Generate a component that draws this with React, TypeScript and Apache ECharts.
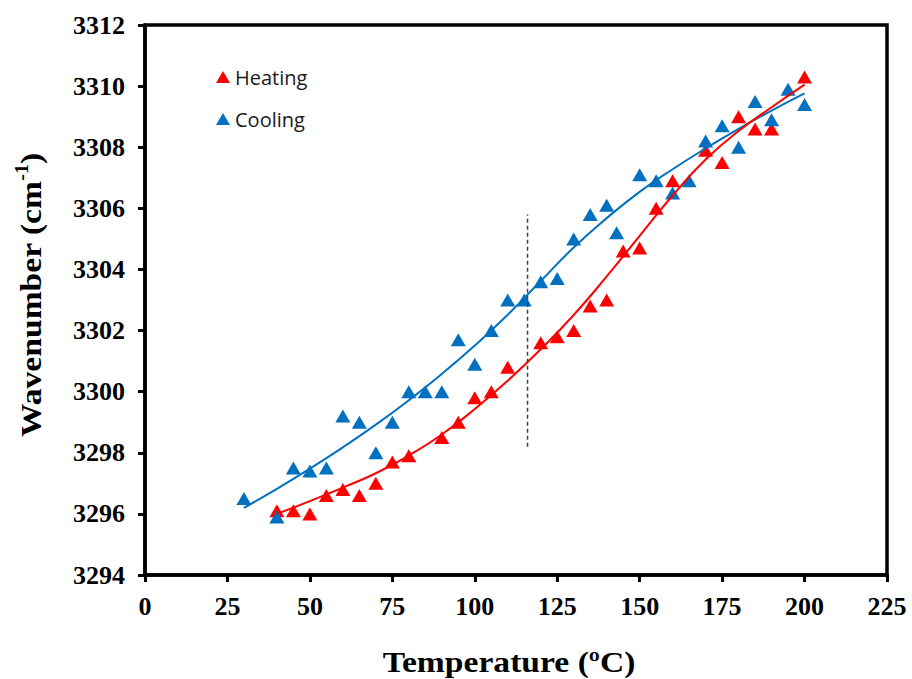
import React, { useEffect, useRef } from "react";
import * as echarts from "echarts";

// Measured points
const heatX = [40, 45, 50, 55, 60, 65, 70, 75, 80, 90, 95, 100, 105, 110, 120, 125, 130, 135, 140, 145, 150, 155, 160, 170, 175, 180, 185, 190, 200];
const heatY = [3296.1, 3296.1, 3296.0, 3296.6, 3296.8, 3296.6, 3297.0, 3297.7, 3297.9, 3298.5, 3299.0, 3299.8, 3300.0, 3300.8, 3301.6, 3301.8, 3302.0, 3302.8, 3303.0, 3304.6, 3304.7, 3306.0, 3306.9, 3307.9, 3307.5, 3309.0, 3308.6, 3308.6, 3310.3];

const coolX = [30, 40, 45, 50, 55, 60, 65, 70, 75, 80, 85, 90, 95, 100, 105, 110, 115, 120, 125, 130, 135, 140, 143, 150, 155, 160, 165, 170, 175, 180, 185, 190, 195, 200];
const coolY = [3296.5, 3295.9, 3297.5, 3297.4, 3297.5, 3299.2, 3299.0, 3298.0, 3299.0, 3300.0, 3300.0, 3300.0, 3301.7, 3300.9, 3302.0, 3303.0, 3303.0, 3303.6, 3303.7, 3305.0, 3305.8, 3306.1, 3305.2, 3307.1, 3306.9, 3306.5, 3306.9, 3308.2, 3308.7, 3308.0, 3309.5, 3308.9, 3309.9, 3309.4];

// Trend curves
const heatFitX = [40, 50, 60, 70, 80, 90, 100, 110, 120, 130, 140, 150, 160, 170, 180, 190, 200];
const heatFitY = [3296.0, 3296.42, 3296.86, 3297.33, 3297.91, 3298.6, 3299.43, 3300.36, 3301.39, 3302.51, 3303.77, 3305.1, 3306.42, 3307.6, 3308.53, 3309.31, 3310.05];

const coolFitX = [30, 40, 50, 60, 70, 80, 90, 100, 110, 120, 130, 140, 150, 160, 170, 180, 190, 200];
const coolFitY = [3296.2, 3296.82, 3297.48, 3298.18, 3298.92, 3299.72, 3300.58, 3301.51, 3302.52, 3303.62, 3304.72, 3305.68, 3306.54, 3307.28, 3307.96, 3308.6, 3309.2, 3309.76];

// Dashed divider
const dividerX = [116, 116];
const dividerY = [3298.2, 3305.8];

const xTicks = { min: 0, max: 225, interval: 25 };
const yTicks = { min: 3294, max: 3312, interval: 2 };

const zip = (xs: number[], ys: number[]) => xs.map((x, i) => [x, ys[i]]);

const RED = "#FF0000";
const BLUE = "#0070C0";
const SERIF = "'Liberation Serif', 'Times New Roman', serif";

export default function App() {
  const ref = useRef<HTMLDivElement>(null);

  useEffect(() => {
    if (!ref.current) return;
    const chart = echarts.init(ref.current, undefined, { renderer: "svg" });

    const axisCommon = {
      type: "value" as const,
      axisLine: { show: true, onZero: false, lineStyle: { color: "#000", width: 3.5 } },
      axisTick: { show: true, inside: false, length: 7, lineStyle: { color: "#000", width: 3 } },
      splitLine: { show: false },
      axisLabel: {
        fontFamily: SERIF,
        fontWeight: "bold" as const,
        fontSize: 26,
        color: "#000",
        formatter: (v: number) => String(v),
      },
    };

    chart.setOption({
      animation: false,
      backgroundColor: "#fff",
      grid: {
        left: 145,
        right: 25,
        top: 25,
        bottom: 104,
        show: true,
        borderColor: "#000",
        borderWidth: 3.5,
        backgroundColor: "transparent",
      },
      xAxis: {
        ...axisCommon,
        ...xTicks,
        axisLabel: { ...axisCommon.axisLabel, margin: 18 },
      },
      yAxis: {
        ...axisCommon,
        ...yTicks,
        axisLabel: { ...axisCommon.axisLabel, margin: 20 },
      },
      legend: {
        data: [
          { name: "Heating", icon: "triangle" },
          { name: "Cooling", icon: "triangle" },
        ],
        orient: "vertical",
        left: 216,
        top: 67,
        padding: 0,
        itemWidth: 14,
        itemHeight: 12,
        itemGap: 22,
        textStyle: { fontFamily: "'Open Sans', sans-serif", fontSize: 20, color: "#1a1a1a" },
      },
      graphic: [
        {
          type: "text",
          x: 31,
          y: 295,
          rotation: Math.PI / 2,
          scaleX: 1.12,
          style: {
            text: "{a|Wavenumber (cm}{s|-1}{a|)}",
            align: "center",
            verticalAlign: "middle",
            rich: {
              a: { fontFamily: SERIF, fontWeight: "bold", fontSize: 30, lineHeight: 36, fill: "#000" },
              s: { fontFamily: SERIF, fontWeight: "bold", fontSize: 18, lineHeight: 20, verticalAlign: "top", fill: "#000" },
            },
          },
        },
        {
          type: "text",
          x: 509,
          y: 662,
          scaleX: 1.12,
          style: {
            text: "Temperature (ºC)",
            align: "center",
            verticalAlign: "middle",
            fontFamily: SERIF,
            fontWeight: "bold",
            fontSize: 30,
            fill: "#000",
          },
        },
      ],
      series: [
        {
          name: "Heating",
          type: "scatter",
          symbol: "triangle",
          symbolSize: [15, 13],
          itemStyle: { color: RED, opacity: 1 },
          data: zip(heatX, heatY),
          z: 2,
        },
        {
          name: "Cooling",
          type: "scatter",
          symbol: "triangle",
          symbolSize: [15, 13],
          itemStyle: { color: BLUE, opacity: 1 },
          data: zip(coolX, coolY),
          z: 3,
        },
        {
          name: "CoolFit",
          type: "line",
          smooth: 0.5,
          showSymbol: false,
          lineStyle: { color: BLUE, width: 2 },
          itemStyle: { color: BLUE },
          data: zip(coolFitX, coolFitY),
          z: 4,
        },
        {
          name: "HeatFit",
          type: "line",
          smooth: 0.5,
          showSymbol: false,
          lineStyle: { color: RED, width: 2 },
          itemStyle: { color: RED },
          data: zip(heatFitX, heatFitY),
          z: 5,
        },
        {
          name: "Divider",
          type: "line",
          showSymbol: false,
          lineStyle: { color: "#404040", width: 1.5, type: [4, 3] },
          itemStyle: { color: "#404040" },
          data: zip(dividerX, dividerY),
          z: 6,
        },
      ],
    });

    return () => chart.dispose();
  }, []);

  return (
    <div
      ref={ref}
      style={{ position: "fixed", left: 0, top: 0, width: 912, height: 679, background: "#fff" }}
    />
  );
}
